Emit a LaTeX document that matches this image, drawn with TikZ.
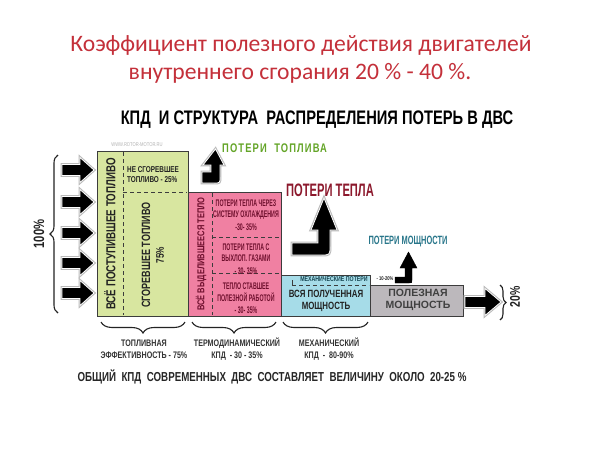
\documentclass[tikz,border=0pt]{standalone}
\usepackage{fontspec}
\setmainfont{Carlito}
\newfontfamily\cond[FakeStretch=0.75]{Liberation Sans}
\newfontfamily\xcond[FakeStretch=0.62]{Liberation Sans}
\newfontfamily\xxcond[FakeStretch=0.55]{Liberation Sans}
\newfontfamily\spcond[FakeStretch=0.75,LetterSpace=9]{Liberation Sans}
\newfontfamily\wide{Liberation Sans}
\usetikzlibrary{decorations.pathreplacing}
\definecolor{titlered}{RGB}{196,48,58}
\definecolor{boxgreen}{RGB}{216,230,160}
\definecolor{boxpink}{RGB}{240,128,162}
\definecolor{boxblue}{RGB}{166,220,232}
\definecolor{boxgray}{RGB}{188,184,188}
\definecolor{edge}{RGB}{60,60,60}
\definecolor{lossgreen}{RGB}{100,165,40}
\definecolor{lossred}{RGB}{140,25,45}
\definecolor{lossteal}{RGB}{40,118,138}
\definecolor{txtdark}{RGB}{35,35,35}
\definecolor{pinktxt}{RGB}{110,15,45}
\begin{document}
\begin{tikzpicture}[x=1pt,y=-1pt,
  box/.style={draw=edge, line width=0.9pt, inner sep=0pt, outer sep=0pt},
  divider/.style={draw=edge, line width=0.7pt, dash pattern=on 4pt off 3pt},
  fatarrow/.style={fill=black, draw=white, line width=0.8pt, line join=miter, preaction={draw=gray!55, line width=2.8pt, line join=miter}},
  plainarrow/.style={fill=black},
  lbl/.style={text=txtdark, inner sep=0pt, align=center},
  bracestyle/.style={draw=txtdark, line width=1.1pt, decorate},
]
\useasboundingbox[fill=white] (0,0) rectangle (600,450);

% titles
\node[text=titlered, font=\fontsize{23.6}{27}\selectfont, inner sep=0pt] (t1) at (301,45) {Коэффициент полезного действия двигателей};
\node[text=titlered, font=\fontsize{23.6}{27}\selectfont, inner sep=0pt] (t2) at (300,73) {внутреннего сгорания 20 \% - 40 \%.};
\node[lbl, text=black, font=\cond\bfseries\fontsize{19.6}{21}\selectfont] (sub) at (317,120) {КПД \ И СТРУКТУРА \ РАСПРЕДЕЛЕНИЯ ПОТЕРЬ В ДВС};
\node[lbl, text=gray!60, font=\cond\fontsize{5.5}{6}\selectfont] (www) at (137,145) {WWW.ROTOR-MOTOR.RU};

% boxes
\node[box, fill=boxgreen, minimum width=91pt, minimum height=165pt] (fuel) at (142.5,233.5) {};
\node[box, fill=boxpink, minimum width=93pt, minimum height=124pt] (heat) at (234.5,254) {};
\node[box, fill=boxblue, minimum width=89pt, minimum height=41pt] (power) at (325.5,295.5) {};
\node[box, fill=boxgray, minimum width=93pt, minimum height=31pt] (useful) at (416.5,300.5) {};

% dashed dividers
\draw[divider] (123,152) -- (123,315);
\draw[divider] (123,192) -- (187,192);
\draw[divider] (212,193) -- (212,315);
\draw[divider] (212,237) -- (280,237);
\draw[divider] (212,273) -- (280,273);
\draw[divider] (292,285) -- (369,285);
\draw[edge, line width=0.6pt] (292,280) -- (292,285);

% green texts
\node[lbl, rotate=90, font=\cond\bfseries\fontsize{13}{14}\selectfont] (allfuel) at (110,234) {ВСЁ ПОСТУПИВШЕЕ ТОПЛИВО};
\node[lbl, font=\cond\bfseries\fontsize{8.5}{10}\selectfont, align=left, anchor=west] (unburnt) at (127,175) {НЕ СГОРЕВШЕЕ\\ТОПЛИВО - 25\%};
\node[lbl, rotate=90, font=\cond\bfseries\fontsize{12}{13}\selectfont] (burnt) at (146,255) {СГОРЕВШЕЕ ТОПЛИВО};
\node[lbl, rotate=90, font=\cond\bfseries\fontsize{11}{12}\selectfont] (p75) at (160,255) {75\%};

% pink texts
\node[lbl, rotate=90, text=pinktxt, font=\cond\bfseries\fontsize{10}{11}\selectfont] (allheat) at (201,254) {ВСЁ ВЫДЕЛИВШЕЕСЯ ТЕПЛО};
\node[lbl, text=pinktxt, font=\xxcond\bfseries\fontsize{9.6}{11.5}\selectfont] (cool) at (246,215) {ПОТЕРИ ТЕПЛА ЧЕРЕЗ\\СИСТЕМУ ОХЛАЖДЕНИЯ\\[1pt]-30- 35\%};
\node[lbl, text=pinktxt, font=\xxcond\bfseries\fontsize{9.6}{11.5}\selectfont] (exh) at (246,259) {ПОТЕРИ ТЕПЛА С\\ВЫХЛОП. ГАЗАМИ\\[1pt]- 30- 35\%};
\node[lbl, text=pinktxt, font=\xxcond\bfseries\fontsize{9.6}{11.5}\selectfont] (work) at (246,298.5) {ТЕПЛО СТАВШЕЕ\\ПОЛЕЗНОЙ РАБОТОЙ\\[1pt]- 30- 35\%};

% blue / gray texts
\node[lbl, text=lossteal!60!black, font=\cond\bfseries\fontsize{7}{8}\selectfont] (mech) at (334,279) {МЕХАНИЧЕСКИЕ ПОТЕРИ};
\node[lbl, font=\cond\bfseries\fontsize{5.5}{6}\selectfont] (mechp) at (385,279) {- 10-20\%};
\node[lbl, font=\cond\bfseries\fontsize{10.5}{12.5}\selectfont] (allpow) at (326,301) {ВСЯ ПОЛУЧЕННАЯ\\МОЩНОСТЬ};
\node[lbl, text=black!75, font=\wide\bfseries\fontsize{10.5}{12.5}\selectfont] (usefull) at (418,300) {ПОЛЕЗНАЯ\\МОЩНОСТЬ};

% input arrows
\foreach \yc in {170,202,233,263,293}{
  \draw[fatarrow] (62,{\yc-5.5}) -- (80,{\yc-5.5}) -- (80,{\yc-12.5}) -- (94,\yc) -- (80,{\yc+12.5}) -- (80,{\yc+5.5}) -- (62,{\yc+5.5}) -- cycle;
}
% output arrow
\draw[fatarrow] (465,296.5) -- (485,296.5) -- (485,288.5) -- (501,302) -- (485,315.5) -- (485,307.5) -- (465,307.5) -- cycle;

% loss arrows
\draw[fatarrow] (202,172) -- (211,172) -- (211,165) -- (203,165) -- (215.5,149) -- (224,165) -- (220,165) -- (220,177) .. controls (220,183) .. (214,183) -- (202,183) -- cycle;
\draw[fatarrow] (292,243) -- (318,243) -- (318,230) -- (311,230) -- (324,198) -- (337,230) -- (330,230) -- (330,246) .. controls (330,255) .. (321,255) -- (292,255) -- cycle;
\draw[plainarrow] (395,277) -- (405,277) -- (405,268) -- (400,268) -- (408.5,252) -- (417,268) -- (412,268) -- (412,280) .. controls (412,283) .. (409,283) -- (395,283) -- cycle;

\node[lbl, text=lossgreen, font=\spcond\bfseries\fontsize{12.5}{13}\selectfont, anchor=west] (lfuel) at (222,148) {ПОТЕРИ \ ТОПЛИВА};
\node[lbl, text=lossred, font=\xcond\bfseries\fontsize{18}{20}\selectfont] (lheat) at (330,190) {ПОТЕРИ ТЕПЛА};
\node[lbl, text=lossteal, font=\xcond\bfseries\fontsize{12}{13}\selectfont] (lpow) at (408,242) {ПОТЕРИ МОЩНОСТИ};

% braces
\coordinate (b100a) at (58,313);
\coordinate (b100b) at (58,155);
\draw[bracestyle, decoration={brace, amplitude=8pt}] (b100a) -- (b100b);
\node[lbl, rotate=90, font=\cond\bfseries\fontsize{15}{16}\selectfont] (p100) at (39,234) {100\%};

\coordinate (b20a) at (500,285);
\coordinate (b20b) at (500,320);
\draw[bracestyle, decoration={brace, amplitude=6pt}] (b20a) -- (b20b);
\node[lbl, rotate=90, font=\cond\bfseries\fontsize{14}{15}\selectfont] (p20) at (515,297) {20\%};

\coordinate (g1) at (101,322); \coordinate (g2) at (185,322);
\coordinate (k1) at (192,322); \coordinate (k2) at (276,322);
\coordinate (m1) at (283,322); \coordinate (m2) at (368,322);
\draw[bracestyle, decoration={brace, mirror, amplitude=11pt}] (g1) -- (g2);
\draw[bracestyle, decoration={brace, mirror, amplitude=11pt}] (k1) -- (k2);
\draw[bracestyle, decoration={brace, mirror, amplitude=11pt}] (m1) -- (m2);

\node[lbl, text=black!80, font=\cond\bfseries\fontsize{9.5}{11.5}\selectfont] (feff) at (144,349) {ТОПЛИВНАЯ\\ЭФФЕКТИВНОСТЬ - 75\%};
\node[lbl, text=black!80, font=\cond\bfseries\fontsize{9.5}{11.5}\selectfont] (teff) at (237,349) {ТЕРМОДИНАМИЧЕСКИЙ\\КПД \ - 30 - 35\%};
\node[lbl, text=black!80, font=\cond\bfseries\fontsize{9.5}{11.5}\selectfont] (meff) at (329,349) {МЕХАНИЧЕСКИЙ\\КПД \ - \ 80-90\%};
\node[lbl, text=black!85, font=\cond\bfseries\fontsize{13}{14}\selectfont] (total) at (272,377) {ОБЩИЙ \ КПД \ СОВРЕМЕННЫХ \ ДВС \ СОСТАВЛЯЕТ \ ВЕЛИЧИНУ \ ОКОЛО \ 20-25 \%};
\end{tikzpicture}
\end{document}
